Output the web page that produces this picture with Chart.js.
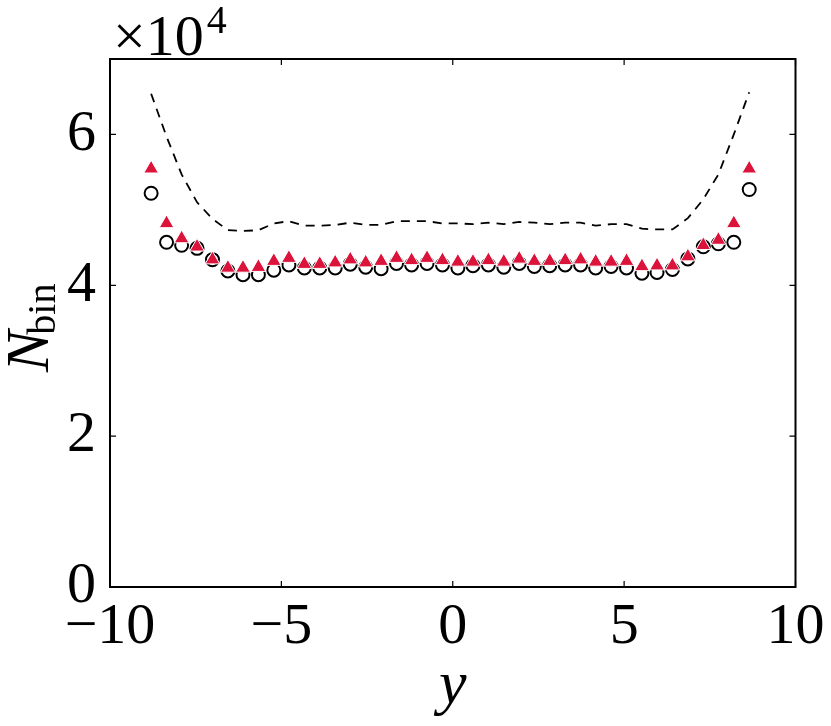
<!DOCTYPE html>
<html>
<head>
<meta charset="utf-8">
<script src="https://cdn.jsdelivr.net/npm/chart.js@4"></script>
<style>
  html, body { margin: 0; padding: 0; background: #fff; }
  #wrap { width: 831px; height: 726px; }
</style>
</head>
<body>
<div id="wrap"><canvas id="c" width="831" height="726"></canvas></div>
<script>
// bin centres
const binCenters = [-8.80,-8.35,-7.91,-7.46,-7.01,-6.56,-6.12,-5.67,-5.22,-4.78,
  -4.33,-3.88,-3.43,-2.99,-2.54,-2.09,-1.64,-1.20,-0.75,-0.30,
  0.15,0.59,1.04,1.49,1.94,2.38,2.83,3.28,3.73,4.17,
  4.62,5.07,5.52,5.96,6.41,6.86,7.31,7.75,8.20,8.65];

// red triangles
const triangleCounts = [55450,48200,46200,45100,43400,42300,42300,42400,43200,43600,
  42800,42800,43000,43400,43000,43200,43600,43300,43600,43300,
  43100,43100,43300,43100,43500,43200,43200,43300,43400,43100,
  43100,43200,42500,42600,42600,43800,45300,46000,48200,55450];

// open circles
const circleCounts = [52200,45700,45300,44900,43400,41900,41400,41400,42000,42700,
  42300,42300,42300,42800,42400,42200,42900,42700,42900,42700,
  42300,42600,42700,42400,42900,42500,42600,42700,42700,42300,
  42500,42300,41600,41700,42100,43500,45100,45500,45700,52700];

// dashed line
const dashedCounts = [65400,59700,54700,51000,48800,47300,47200,47300,48200,48500,
  47900,47900,48000,48300,48000,48000,48500,48500,48500,48200,
  48200,48100,48300,48100,48400,48300,48100,48300,48300,47900,
  48100,48100,47500,47400,47400,48900,51400,54700,60000,65600];

const xTicks = [-10, -5, 0, 5, 10];
const xTickLabels = ['\u221210', '\u22125', '0', '5', '10'];
const yTicks = [0, 20000, 40000, 60000];
const yTickLabels = ['0', '2', '4', '6'];

const FONT = "'Liberation Serif'";

function pts(ys) { return binCenters.map((x, i) => ({ x: x, y: ys[i] })); }

const decor = {
  id: 'decor',
  afterDraw(chart) {
    const ctx = chart.ctx;
    const a = chart.chartArea;
    const xs = chart.scales.x, ys = chart.scales.y;
    ctx.save();
    ctx.strokeStyle = '#000';
    ctx.lineWidth = 1.2;
    const tl = 6;
    xs.ticks.forEach(t => {
      const px = xs.getPixelForValue(t.value);
      ctx.beginPath();
      ctx.moveTo(px, a.bottom); ctx.lineTo(px, a.bottom - tl);
      ctx.moveTo(px, a.top); ctx.lineTo(px, a.top + tl);
      ctx.stroke();
    });
    ys.ticks.forEach(t => {
      const py = ys.getPixelForValue(t.value);
      ctx.beginPath();
      ctx.moveTo(a.left, py); ctx.lineTo(a.left + tl, py);
      ctx.moveTo(a.right, py); ctx.lineTo(a.right - tl, py);
      ctx.stroke();
    });
    ctx.lineWidth = 2;
    ctx.strokeRect(a.left, a.top, a.right - a.left, a.bottom - a.top);

    ctx.fillStyle = '#000';
    ctx.font = 'italic 62px ' + FONT;
    ctx.textAlign = 'center';
    ctx.textBaseline = 'alphabetic';
    ctx.fillText('y', (a.left + a.right) / 2, 703);

    ctx.save();
    ctx.translate(48, 372);
    ctx.rotate(-Math.PI / 2);
    ctx.textAlign = 'left';
    ctx.font = 'italic 62px ' + FONT;
    ctx.fillText('N', 0, 0);
    const wN = ctx.measureText('N').width;
    ctx.font = '40px ' + FONT;
    ctx.fillText('bin', wN - 4, 7);
    ctx.restore();

    ctx.textAlign = 'left';
    ctx.font = '58px ' + FONT;
    ctx.fillText('\u00d710', 113, 55);
    const wm = ctx.measureText('\u00d710').width;
    ctx.font = '40px ' + FONT;
    ctx.fillText('4', 113 + wm + 3, 33);
    ctx.restore();
  }
};

new Chart(document.getElementById('c'), {
  type: 'scatter',
  data: {
    datasets: [
      {
        label: 'triangles',
        data: pts(triangleCounts),
        pointStyle: 'triangle',
        pointRadius: 8.5,
        backgroundColor: '#DC143C',
        borderColor: '#ffffff',
        borderWidth: 1,
        showLine: false
      },
      {
        label: 'circles',
        data: pts(circleCounts),
        pointStyle: 'circle',
        pointRadius: 6.5,
        backgroundColor: 'rgba(0,0,0,0)',
        borderColor: '#000',
        borderWidth: 2,
        showLine: false
      },
      {
        label: 'dashed',
        data: pts(dashedCounts),
        showLine: true,
        borderColor: '#000',
        borderWidth: 1.8,
        borderDash: [9, 7],
        pointRadius: 0,
        tension: 0,
        fill: false
      }
    ]
  },
  options: {
    responsive: false,
    animation: false,
    devicePixelRatio: 1,
    layout: { padding: { left: 0, top: 59, right: 35.5, bottom: 0 } },
    plugins: { legend: { display: false }, tooltip: { enabled: false } },
    scales: {
      x: {
        type: 'linear', min: -10, max: 10,
        afterBuildTicks: s => { s.ticks = xTicks.map(v => ({ value: v })); },
        ticks: {
          callback: (v, i) => xTickLabels[i],
          font: { family: FONT, size: 58, lineHeight: 1 },
          color: '#000', padding: 4, maxRotation: 0, autoSkip: false
        },
        grid: { display: false },
        border: { display: false },
        afterFit: s => { s.height = 139; }
      },
      y: {
        type: 'linear', min: 0, max: 70000,
        afterBuildTicks: s => { s.ticks = yTicks.map(v => ({ value: v })); },
        ticks: {
          callback: (v, i) => yTickLabels[i],
          font: { family: FONT, size: 58, lineHeight: 1 },
          color: '#000', padding: 6, autoSkip: false
        },
        grid: { display: false },
        border: { display: false },
        afterFit: s => { s.width = 110; }
      }
    }
  },
  plugins: [decor]
});
</script>
</body>
</html>
